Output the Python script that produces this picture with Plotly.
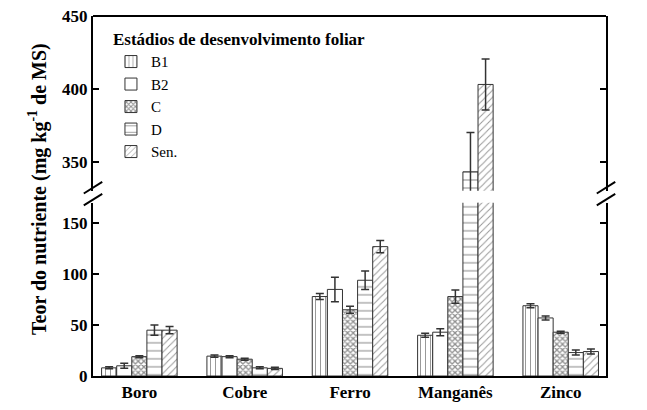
import plotly.graph_objects as go

nutrients = ["Boro", "Cobre", "Ferro", "Manganês", "Zinco"]
stages = ["B1", "B2", "C", "D", "Sen."]

b1 = [8, 19.5, 78, 40, 69]
b2 = [10, 19, 85, 43, 57]
c = [19, 16.5, 65, 78, 43]
d = [45, 8, 94, 343, 23]
sen = [45, 7.5, 127, 403, 24]

b1_err = [1, 1, 3, 2, 2]
b2_err = [2.5, 1, 12, 3.5, 2]
c_err = [1, 1, 3.5, 6.5, 1]
d_err = [5, 1, 9, 27, 2.5]
sen_err = [3.5, 1, 6, 17.5, 2.5]

series_values = [b1, b2, c, d, sen]
series_errors = [b1_err, b2_err, c_err, d_err, sen_err]

patterns = [
    dict(shape="|", size=5, solidity=0.2, fgcolor="#333", bgcolor="white"),
    dict(shape="", bgcolor="white"),
    dict(shape="x", size=4, solidity=0.55, fgcolor="#222", bgcolor="white"),
    dict(shape="-", size=8, solidity=0.15, fgcolor="#333", bgcolor="white"),
    dict(shape="/", size=5, solidity=0.2, fgcolor="#333", bgcolor="white"),
]

FONT = "Liberation Serif"
fig = go.Figure()

for yax, show in (("y", True), ("y2", False)):
    for name, vals, errs, pat in zip(stages, series_values, series_errors, patterns):
        fig.add_trace(go.Bar(
            x=nutrients, y=vals, name=name, yaxis=yax, xaxis="x",
            offsetgroup=name, legendgroup=name, showlegend=show,
            marker=dict(color="white", line=dict(color="#333", width=1), pattern=pat),
            error_y=dict(type="data", array=errs, visible=True, color="#333",
                         thickness=1.5, width=4),
        ))

low_top = 0.481
up_bot = 0.5146

tickfont = dict(family=FONT, size=17, color="black", weight="bold")
fig.update_layout(
    width=639, height=402,
    margin=dict(l=85, r=41, t=8, b=33.5, autoexpand=False),
    paper_bgcolor="white", plot_bgcolor="white",
    barmode="group", bargap=0.283, bargroupgap=0,
    font=dict(family=FONT, color="black"),
    showlegend=True,
    legend=dict(
        x=0.035, y=0.98, xanchor="left", yanchor="top",
        bgcolor="rgba(0,0,0,0)",
        font=dict(family=FONT, size=15, color="black"),
        title=dict(text="<b>Estádios de desenvolvimento foliar</b>",
                   font=dict(family=FONT, size=17, color="black")),
        tracegroupgap=0,
    ),
    xaxis=dict(
        anchor="y", range=[-0.44, 4.43], showline=True, linecolor="black",
        linewidth=2, ticks="", showgrid=False, zeroline=False, automargin=False,
        tickfont=tickfont,
    ),
    yaxis=dict(
        domain=[0, low_top], range=[0, 170], tickvals=[0, 50, 100, 150],
        showline=True, linecolor="black", linewidth=2, mirror="ticks",
        ticks="inside", ticklen=6, tickwidth=1.5, tickcolor="black",
        showgrid=False, zeroline=False, automargin=False,
        tickfont=tickfont, ticklabeloverflow="allow",
    ),
    yaxis2=dict(
        domain=[up_bot, 1], range=[330, 450], tickvals=[350, 400, 450],
        anchor="x",
        showline=True, linecolor="black", linewidth=2, mirror="ticks",
        ticks="inside", ticklen=6, tickwidth=1.5, tickcolor="black",
        showgrid=False, zeroline=False, automargin=False,
        tickfont=tickfont, ticklabeloverflow="allow",
    ),
    annotations=[dict(
        text="<b>Teor do nutriente (mg kg<sup>-1</sup> de MS)</b>",
        xref="paper", yref="paper", x=-0.107, y=0.52, textangle=-90,
        showarrow=False, xanchor="center", yanchor="middle",
        font=dict(family=FONT, size=20, color="black"),
    )],
)

shapes = [dict(type="line", xref="paper", yref="paper", x0=0, x1=1, y0=1, y1=1,
               line=dict(color="black", width=2))]
for xp in (0, 1):
    for yc in (0.523, 0.49):
        shapes.append(dict(type="line", xref="paper", yref="paper",
                           x0=xp - 0.018, x1=xp + 0.018, y0=yc - 0.016, y1=yc + 0.016,
                           line=dict(color="black", width=2)))
fig.update_layout(shapes=shapes)

fig.write_html("out.html")
